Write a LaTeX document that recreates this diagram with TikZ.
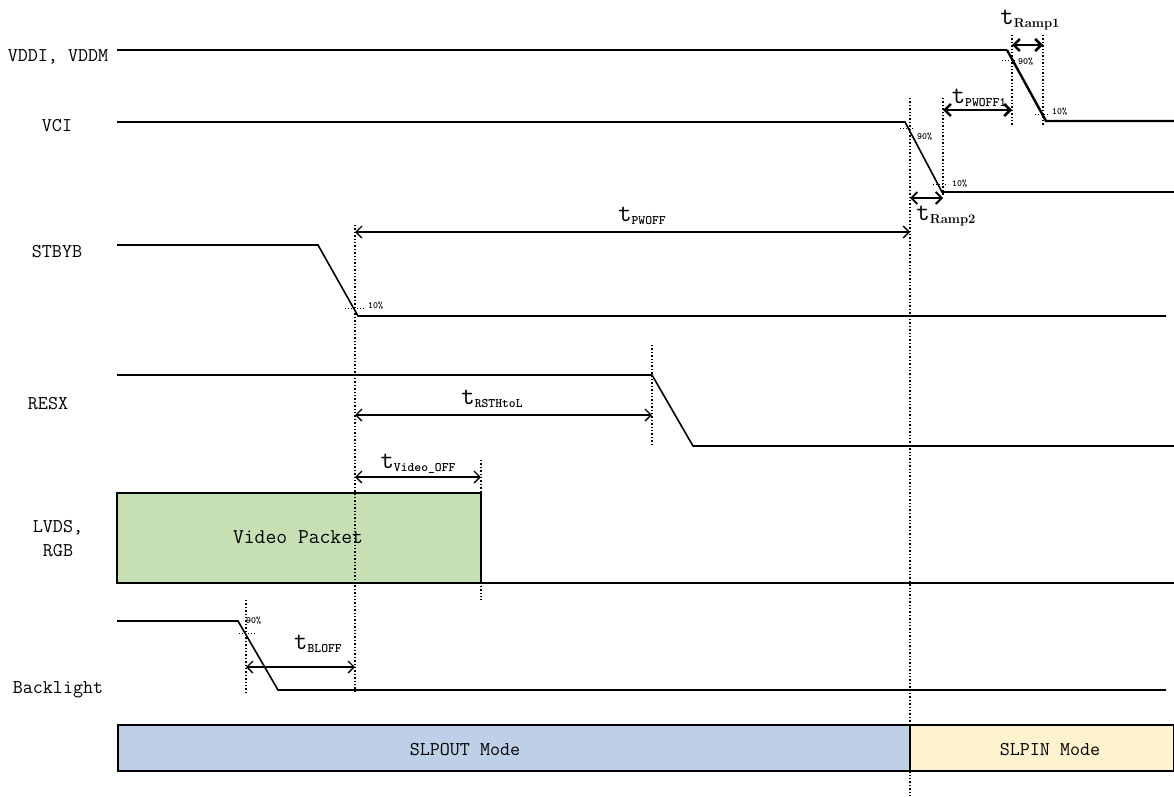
\documentclass[tikz,border=0pt]{standalone}
\usetikzlibrary{arrows.meta}
\definecolor{videogreen}{RGB}{198,224,180}
\definecolor{slpoutblue}{RGB}{189,208,232}
\definecolor{slpinyellow}{RGB}{255,242,206}
\newcommand{\tlab}[1]{{\fontsize{26}{26}\selectfont t}\raisebox{-3pt}{\fontsize{13}{13}\selectfont\bfseries #1}}

\tikzset{signal/.style={line width=1.6pt},
    strong signal/.style={line width=2.4pt},
    marker/.style={dotted, line width=1.4pt},
    level mark/.style={dotted, line width=1pt},
    span/.style={<->, line width=1.3pt},
    short span/.style={span, line width=2.6pt},
    signal label/.style={font=\ttfamily\fontsize{19.5}{24}\selectfont, align=center},
    time label/.style={font=\ttfamily, inner sep=0pt},
    percent label/.style={font=\ttfamily\bfseries\fontsize{9.5}{9.5}\selectfont, inner sep=0pt, anchor=west},
    mode box/.style={draw, line width=1.6pt},
}

\begin{document}
\begin{tikzpicture}[x=1pt, y=-1pt, >={Straight Barb[length=6pt,width=12pt]}]
	\useasboundingbox (0,0) rectangle (1174,796);

	% signal names
	\node[signal label] (vddi) at (58,57) {VDDI, VDDM};
	\node[signal label] (vci) at (57,126) {VCI};
	\node[signal label] (stbyb) at (57,252) {STBYB};
	\node[signal label] (resx) at (48,404) {RESX};
	\node[signal label] (lvds) at (58,539) {LVDS,\\RGB};
	\node[signal label] (backlight) at (58,690) {Backlight};

	% modes
	\draw[mode box, fill=slpoutblue] (118,725) rectangle (910,771);
	\draw[mode box, fill=slpinyellow] (910,725) rectangle (1174,771);
	\node[signal label] (slpout) at (465,750) {SLPOUT Mode};
	\node[signal label] (slpin) at (1050,750) {SLPIN Mode};

	% waveforms
		% VDDI, VDDM
		\draw[signal] (117,50) -- (1007,50);
		\draw[strong signal] (1007,50) -- (1046,121) -- (1174,121);
		% VCI
		\draw[signal] (117,122) -- (905,122) -- (942,192) -- (1174,192);
		% STBYB
		\draw[signal] (117,245) -- (318,245) -- (358,316) -- (1166,316);
		% RESX
		\draw[signal] (117,375) -- (652,375) -- (693,446) -- (1174,446);
		% LVDS, RGB
		\draw[line width=2.4pt, fill=videogreen] (117,493) rectangle (481,583);
		\node[signal label, font=\ttfamily\fontsize{21}{24}\selectfont] (packet) at (298,537) {Video Packet};
		\draw[signal] (481,583) -- (1174,583);
		% Backlight
		\draw[signal] (117,621) -- (238,621) -- (278,690) -- (1166,690);

	% dotted markers
	\draw[marker] (355,225) -- (355,693);
	\draw[marker] (910,98) -- (910,796);
	\draw[marker] (943,98) -- (943,195);
	\draw[marker] (1012,35) -- (1012,125);
	\draw[marker] (1043,35) -- (1043,125);
	\draw[marker] (652,345) -- (652,445);
	\draw[marker] (481,460) -- (481,600);
	\draw[marker] (246,600) -- (246,693);

	% levels
	\draw[level mark] (1002,60) -- (1016,60);
	\node[percent label] (p1) at (1018,62) {90\%};
	\draw[level mark] (1035,114) -- (1049,114);
	\node[percent label] (p2) at (1052,112) {10\%};
	\draw[level mark] (900,128) -- (914,128);
	\node[percent label] (p3) at (917,137) {90\%};
	\draw[level mark] (933,184) -- (948,184);
	\node[percent label] (p4) at (952,184) {10\%};
	\draw[level mark] (345,308) -- (366,308);
	\node[percent label] (p5) at (368,306) {10\%};
	\draw[level mark] (239,633) -- (255,633);
	\node[percent label] (p6) at (246,621) {90\%};

	% timings
	\draw[short span] (1012,45) -- (1043,45);
	\node[time label] (tramp1) at (1030,20) {\tlab{\rmfamily Ramp1}};
	\draw[short span] (943,110) -- (1012,110);
	\node[time label] (tpwoff1) at (979,98) {\tlab{PWOFF1}};
	\draw[span, line width=1.8pt] (910,198) -- (943,198);
	\node[time label] (tramp2) at (946,216) {\tlab{\rmfamily Ramp2}};
	\draw[span] (355,232) -- (910,232);
	\node[time label] (tpwoff) at (642,216) {\tlab{PWOFF}};
	\draw[span] (355,415) -- (652,415);
	\node[time label] (trsthtol) at (492,399) {\tlab{RSTHtoL}};
	\draw[span] (355,477) -- (481,477);
	\node[time label] (tvideo) at (418,464) {\tlab{Video\_OFF}};
	\draw[span] (246,667) -- (355,667);
	\node[time label] (tbloff) at (318,644) {\tlab{BLOFF}};
\end{tikzpicture}
\end{document}
